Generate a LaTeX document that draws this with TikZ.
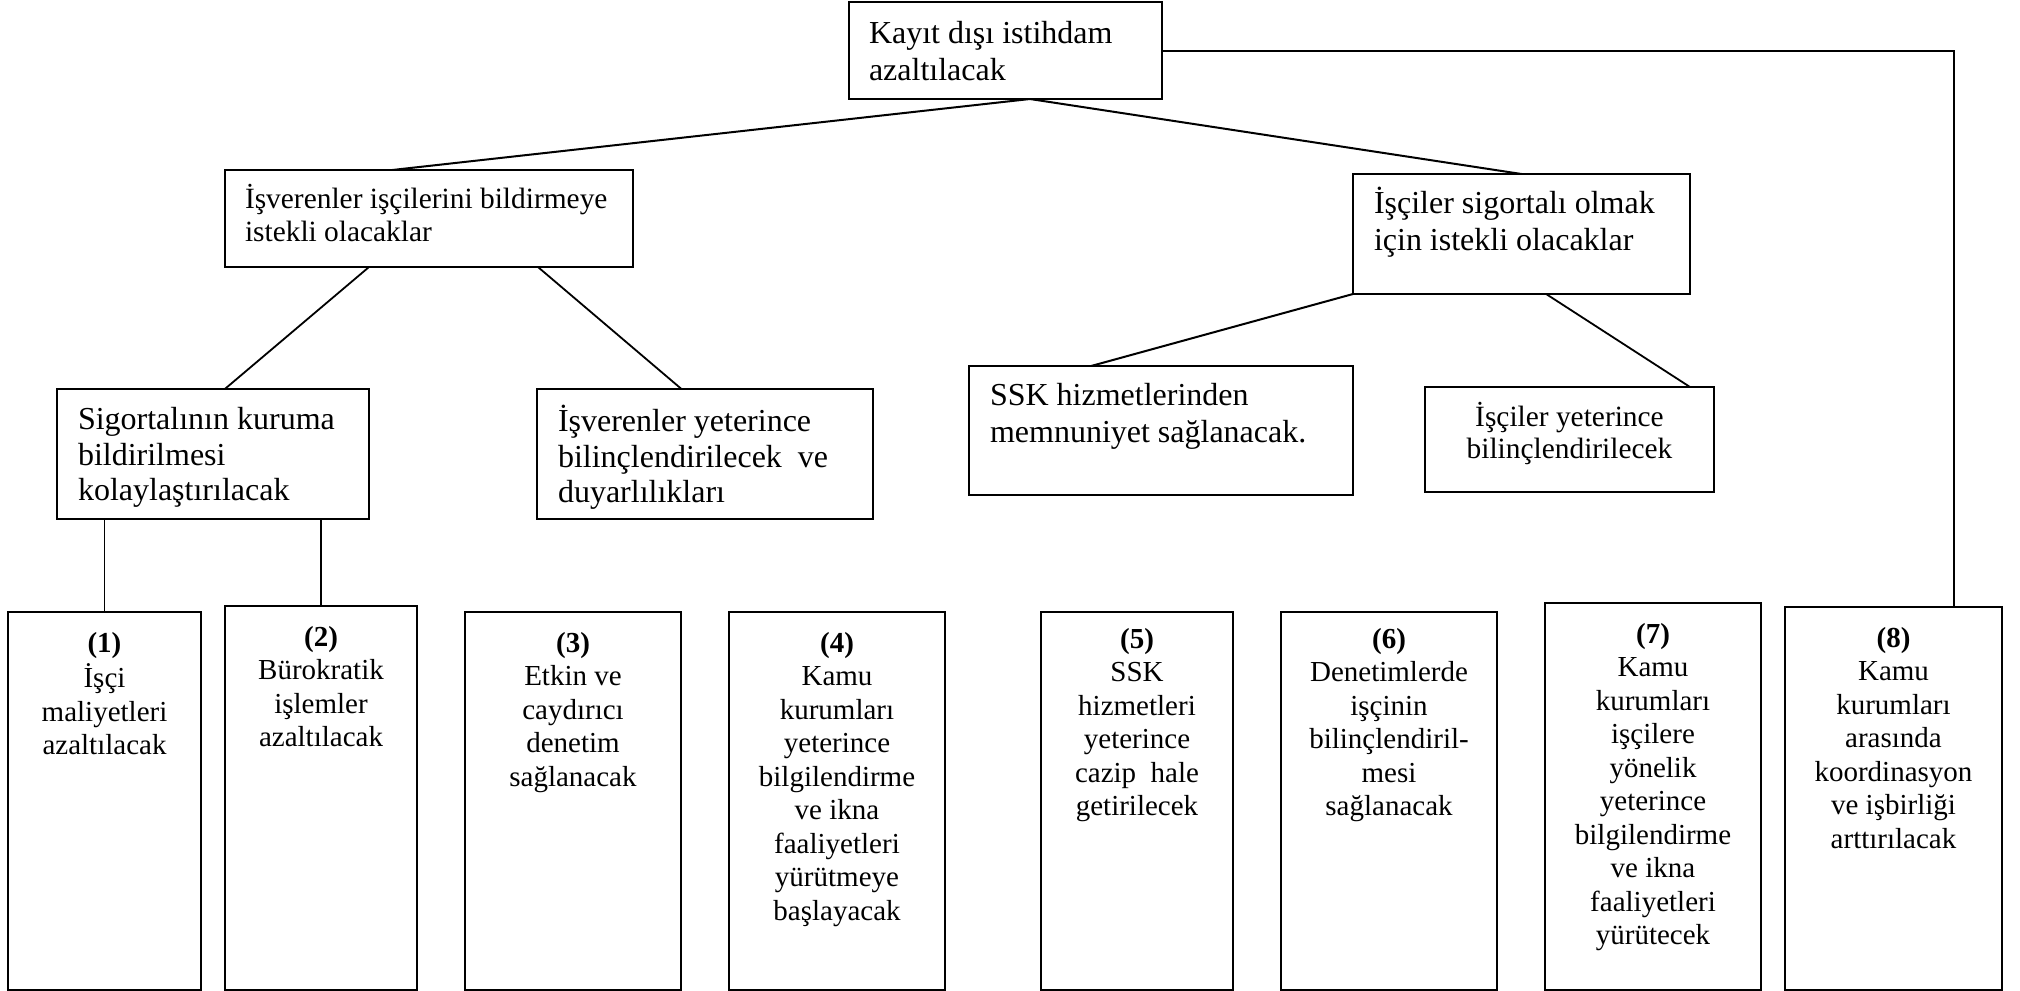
\documentclass[tikz,border=0pt]{standalone}
\usepackage{fontspec}
\setmainfont{Liberation Serif}
\usetikzlibrary{calc}
% left-aligned box content: #1 width, #2 height, #3 top gap, #4 font size, #5 baselineskip, #6 left indent, #7 text
\newcommand{\lbx}[7]{\parbox[t][#2][t]{#1}{\fontsize{#4}{#5}\selectfont\vspace*{#3}\raggedright\leftskip=#6\relax\strut #7}}
% centred box content: #1 width, #2 height, #3 top gap, #4 font size, #5 baselineskip, #6 text
\newcommand{\cbx}[6]{\parbox[t][#2][t]{#1}{\fontsize{#4}{#5}\selectfont\vspace*{#3}\centering\strut #6}}
\begin{document}
\begin{tikzpicture}[x=0.5pt,y=-0.5pt,
  box/.style={draw,line width=1pt,inner sep=0pt,outer sep=0pt,anchor=north west},
  link/.style={line width=1pt},
  linkthin/.style={line width=0.9pt}]
\useasboundingbox (0,0) rectangle (2020,991);
\fill[white] (0,0) rectangle (2020,991);

% level 0
\node[box] (n0) at (849,2) {\lbx{156.5pt}{48.5pt}{7.55pt}{16}{18.5}{10pt}{Kayıt dışı istihdam\\azaltılacak}};
% level 1
\node[box] (nA) at (225,170) {\lbx{204pt}{48.5pt}{6.95pt}{14.7}{16.5}{10pt}{İşverenler işçilerini bildirmeye\\istekli olacaklar}};
\node[box] (nB) at (1353,174) {\lbx{168.5pt}{60pt}{6.55pt}{16}{18.5}{10.5pt}{İşçiler sigortalı olmak\\için istekli olacaklar}};
% level 2
\node[box] (nC) at (57,389) {\lbx{156pt}{65pt}{8.07pt}{16}{17.75}{10.5pt}{Sigortalının kuruma\\bildirilmesi\\kolaylaştırılacak}};
\node[box] (nD) at (537,389) {\lbx{168pt}{65pt}{8.07pt}{16}{17.75}{10.5pt}{İşverenler yeterince\\bilinçlendirilecek\ \ ve\\duyarlılıkları}};
\node[box] (nE) at (969,366) {\lbx{192pt}{64.5pt}{6.55pt}{16}{18.5}{10.5pt}{SSK hizmetlerinden\\memnuniyet sağlanacak.}};
\node[box] (nF) at (1425,387) {\cbx{144.5pt}{52.5pt}{7.8pt}{14.7}{16}{İşçiler yeterince\\bilinçlendirilecek}};
% level 3
\node[box] (b1) at (8,612) {\cbx{96.5pt}{189pt}{8.28pt}{14.5}{16.75}{\textbf{(1)}\\İşçi\\maliyetleri\\azaltılacak}};
\node[box] (b2) at (225,606) {\cbx{96pt}{192pt}{8.28pt}{14.5}{16.75}{\textbf{(2)}\\Bürokratik\\işlemler\\azaltılacak}};
\node[box] (b3) at (465,612) {\cbx{108pt}{189pt}{8.28pt}{14.5}{16.75}{\textbf{(3)}\\Etkin ve\\caydırıcı\\denetim\\sağlanacak}};
\node[box] (b4) at (729,612) {\cbx{108pt}{189pt}{8.28pt}{14.5}{16.75}{\textbf{(4)}\\Kamu\\kurumları\\yeterince\\bilgilendirme\\ve ikna\\faaliyetleri\\yürütmeye\\başlayacak}};
\node[box] (b5) at (1041,612) {\cbx{96pt}{189pt}{6.28pt}{14.5}{16.75}{\textbf{(5)}\\SSK\\hizmetleri\\yeterince\\cazip\ \ hale\\getirilecek}};
\node[box] (b6) at (1281,612) {\cbx{108pt}{189pt}{6.28pt}{14.5}{16.75}{\textbf{(6)}\\Denetimlerde\\işçinin\\bilinçlendiril-\\mesi\\sağlanacak}};
\node[box] (b7) at (1545,603) {\cbx{108pt}{193.5pt}{8.28pt}{14.5}{16.75}{\textbf{(7)}\\Kamu\\kurumları\\işçilere\\yönelik\\yeterince\\bilgilendirme\\ve ikna\\faaliyetleri\\yürütecek}};
\node[box] (b8) at (1785,607) {\cbx{108.5pt}{191.5pt}{8.28pt}{14.5}{16.75}{\textbf{(8)}\\Kamu\\kurumları\\arasında\\koordinasyon\\ve işbirliği\\arttırılacak}};

% connectors from the top box
\draw[link] ($(n0.south west)!0.578!(n0.south east)$) -- ($(nA.north west)!0.41!(nA.north east)$);
\draw[link] ($(n0.south west)!0.578!(n0.south east)$) -- ($(nB.north west)!0.50!(nB.north east)$);
\draw[link] (n0.east) -| ($(b8.north west)!0.779!(b8.north east)$);
% level 1 to level 2
\draw[linkthin] ($(nA.south west)!0.353!(nA.south east)$) -- ($(nC.north west)!0.538!(nC.north east)$);
\draw[linkthin] ($(nA.south west)!0.767!(nA.south east)$) -- ($(nD.north west)!0.43!(nD.north east)$);
\draw[link] (nB.south west) -- ($(nE.north west)!0.318!(nE.north east)$);
\draw[linkthin] ($(nB.south west)!0.573!(nB.south east)$) -- ($(nF.north west)!0.917!(nF.north east)$);
% level 2 to level 3
\draw[linkthin] (b1.north |- nC.south) -- (b1.north);
\draw[linkthin] (b2.north |- nC.south) -- (b2.north);
\draw[linkthin] ($(b3.north west)!0.556!(b3.north east)$ |- nD.south) -- ($(b3.north west)!0.556!(b3.north east)$);
\draw[linkthin] ($(b4.north west)!0.444!(b4.north east)$ |- nD.south) -- ($(b4.north west)!0.444!(b4.north east)$);
\draw[linkthin] ($(b5.north west)!0.625!(b5.north east)$ |- nE.south) -- ($(b5.north west)!0.625!(b5.north east)$);
\draw[linkthin] ($(b6.north west)!0.782!(b6.north east)$ |- nF.south) -- ($(b6.north west)!0.782!(b6.north east)$);
\draw[linkthin] ($(b7.north west)!0.556!(b7.north east)$ |- nF.south) -- ($(b7.north west)!0.556!(b7.north east)$);
\end{tikzpicture}
\end{document}
